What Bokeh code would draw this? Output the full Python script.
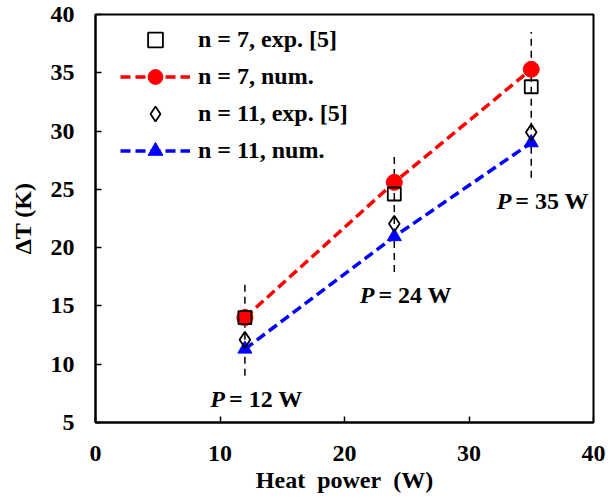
from bokeh.plotting import figure
from bokeh.models import Legend, LegendItem, ColumnDataSource
from bokeh.core.properties import value
from bokeh.embed import file_html
from bokeh.resources import INLINE

# Heat power levels (W)
power = [12, 24, 35]

# Temperature difference (K)
dt_n7_exp = [14.0, 24.6, 33.8]
dt_n7_num = [14.0, 25.6, 35.3]
dt_n11_exp = [12.1, 22.05, 29.9]
dt_n11_num = [11.3, 20.95, 29.0]

# Extent of the vertical guide lines at each power level
guide_low = [9.0, 17.9, 26.0]
guide_high = [16.9, 28.1, 38.5]
power_labels = ["= 12 W", "= 24 W", "= 35 W"]

FONT = "Liberation Serif"
FS = "24px"

p = figure(width=609, height=497, x_range=(0, 40), y_range=(5, 40),
           output_backend="svg", toolbar_location=None,
           min_border_left=95, min_border_right=16,
           min_border_top=14, min_border_bottom=75)

p.grid.visible = False
p.outline_line_color = "black"
p.outline_line_width = 2
p.background_fill_color = "white"
p.border_fill_color = "white"

for ax in (p.xaxis[0], p.yaxis[0]):
    ax.axis_line_width = 2
    ax.axis_line_color = "black"
    ax.major_tick_in = 6
    ax.major_tick_out = 0
    ax.major_tick_line_width = 1.5
    ax.minor_tick_line_color = None
    ax.major_label_text_font = FONT
    ax.major_label_text_font_style = "bold"
    ax.major_label_text_font_size = FS
    ax.major_label_text_color = "black"
    ax.axis_label_text_font = FONT
    ax.axis_label_text_font_style = "bold"
    ax.axis_label_text_font_size = FS
    ax.axis_label_text_color = "black"

p.xaxis.ticker = [0, 10, 20, 30, 40]
p.yaxis.ticker = [5, 10, 15, 20, 25, 30, 35, 40]
p.xaxis.axis_label = "Heat\u00a0 power\u00a0 (W)"
p.yaxis.axis_label = "ΔT (K)"
p.xaxis.major_label_standoff = 23
p.yaxis.major_label_standoff = 21
p.xaxis.axis_label_standoff = 3
p.yaxis.axis_label_standoff = 12

# Vertical dashed guides marking each power level
p.segment(x0=power, y0=guide_low, x1=power, y1=guide_high,
          line_color="black", line_width=1.5, line_dash="7 5")

# Numerical results
r7_line = p.line(power, dt_n7_num, line_color="red", line_width=3.5, line_dash="10 5")
r7_pts = p.scatter(power, dt_n7_num, marker="circle", size=16,
                   fill_color="red", line_color="red")
r11_line = p.line(power, dt_n11_num, line_color="blue", line_width=3.5, line_dash="10 5")
r11_pts = p.scatter(power, dt_n11_num, marker="triangle", size=14,
                    fill_color="blue", line_color="blue")

# Experimental data
e7 = p.scatter(power, dt_n7_exp, marker="square", size=13,
               fill_color=None, line_color="black", line_width=1.8)
e11 = p.scatter(power, dt_n11_exp, marker="diamond", size=16,
                fill_color=None, line_color="black", line_width=1.8)

# Power level annotations "P = xx W"
lab = ColumnDataSource(dict(
    x=[w - 1.6 for w in power],
    y=[g - 2.0 for g in guide_low],
    p=["P"] * len(power),
    t=power_labels,
))
p.text(x="x", y="y", text="p", source=lab, text_font=value(FONT),
       text_font_style="bold italic", text_font_size=FS,
       text_align="right", text_baseline="middle", text_color="black")
p.text(x="x", y="y", text="t", source=lab, text_font=value(FONT),
       text_font_style="bold", text_font_size=FS, x_offset=4,
       text_align="left", text_baseline="middle", text_color="black")

legend = Legend(items=[
    LegendItem(label="n = 7, exp. [5]", renderers=[e7]),
    LegendItem(label="n = 7, num.", renderers=[r7_line, r7_pts]),
    LegendItem(label="n = 11, exp. [5]", renderers=[e11]),
    LegendItem(label="n = 11, num.", renderers=[r11_line, r11_pts]),
], location=(25, 253))
legend.border_line_color = None
legend.background_fill_alpha = 0
legend.margin = 0
legend.padding = 0
legend.spacing = 0
legend.glyph_width = 70
legend.glyph_height = 37
legend.label_height = 37
legend.label_standoff = 8
legend.label_text_font = FONT
legend.label_text_font_style = "bold"
legend.label_text_font_size = FS
legend.label_text_color = "black"
p.add_layout(legend)

open("out.html", "w").write(file_html(p, INLINE))
